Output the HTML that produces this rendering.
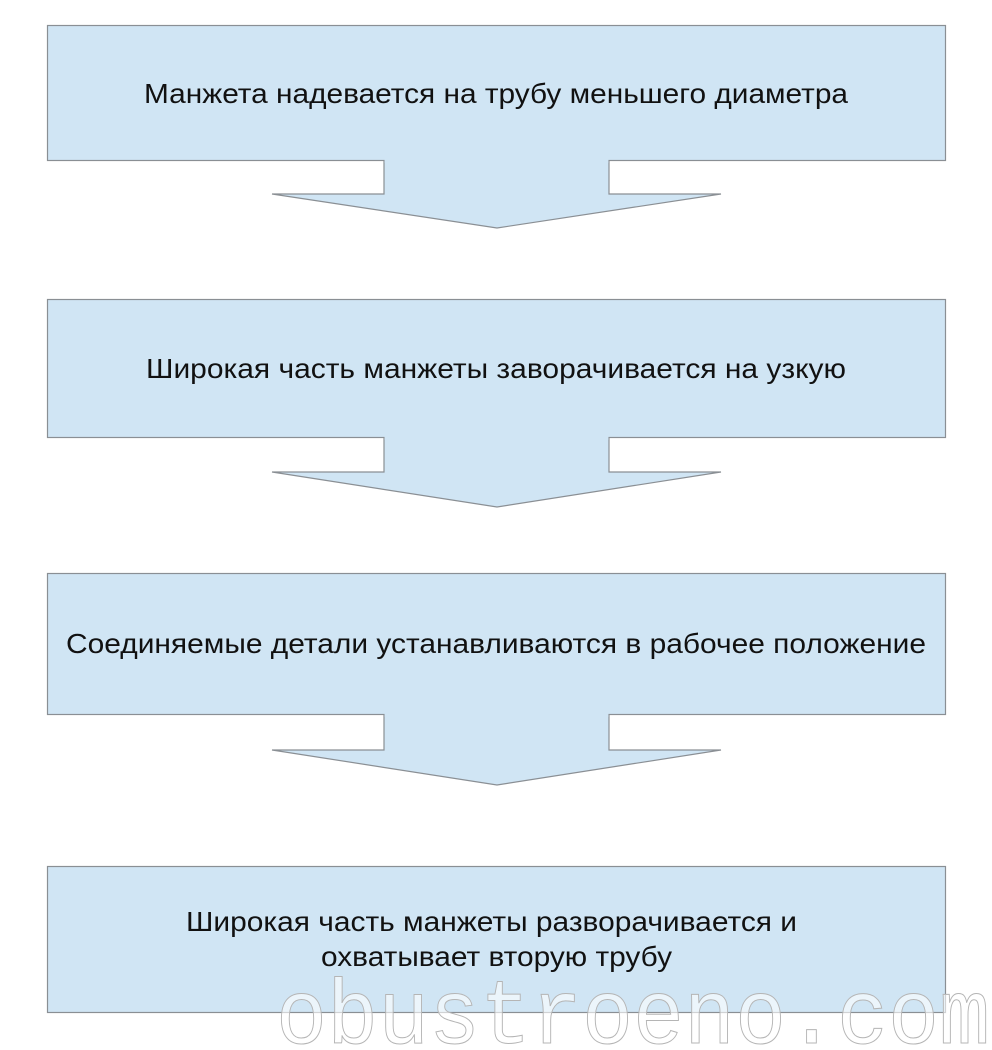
<!DOCTYPE html>
<html><head><meta charset="utf-8"><style>
body{margin:0;background:#fff;}
</style></head><body>
<svg width="992" height="1050" xmlns="http://www.w3.org/2000/svg" style="display:block">
<g fill="#d0e5f4" stroke="#8a8f94" stroke-width="1.2">
<rect x="47.5" y="25.5" width="898" height="135"/>
<rect x="47.5" y="299.5" width="898" height="138"/>
<rect x="47.5" y="573.5" width="898" height="141"/>
<rect x="47.5" y="866.5" width="898" height="146"/>
<path d="M384,160.5 V194 H272 L497,228 L721,194 H609 V160.5"/>
<path d="M384,437.5 V472 H272 L497,507 L721,472 H609 V437.5"/>
<path d="M384,714.5 V750 H272 L497,785 L721,750 H609 V714.5"/>
</g>
<g fill="#d0e5f4">
<rect x="384.6" y="155" width="223.8" height="8"/>
<rect x="384.6" y="432" width="223.8" height="8"/>
<rect x="384.6" y="709" width="223.8" height="8"/>
</g>
<g font-family="Liberation Sans, sans-serif" font-size="28" fill="#111" lengthAdjust="spacingAndGlyphs">
<text x="144" y="103" textLength="704" lengthAdjust="spacingAndGlyphs">Манжета надевается на трубу меньшего диаметра</text>
<text x="146" y="378" textLength="700" lengthAdjust="spacingAndGlyphs">Широкая часть манжеты заворачивается на узкую</text>
<text x="66" y="653" textLength="860" lengthAdjust="spacingAndGlyphs">Соединяемые детали устанавливаются в рабочее положение</text>
<text x="186" y="931" textLength="611" lengthAdjust="spacingAndGlyphs">Широкая часть манжеты разворачивается и</text>
<text x="321" y="966" textLength="351" lengthAdjust="spacingAndGlyphs">охватывает вторую трубу</text>
</g>
<text x="276" y="1043" font-family="Liberation Mono, monospace" font-size="92" textLength="714" lengthAdjust="spacingAndGlyphs" fill="#fff" fill-opacity="0.6" stroke="#b5b5b5" stroke-width="1">obustroeno.com</text>
</svg>
</body></html>
